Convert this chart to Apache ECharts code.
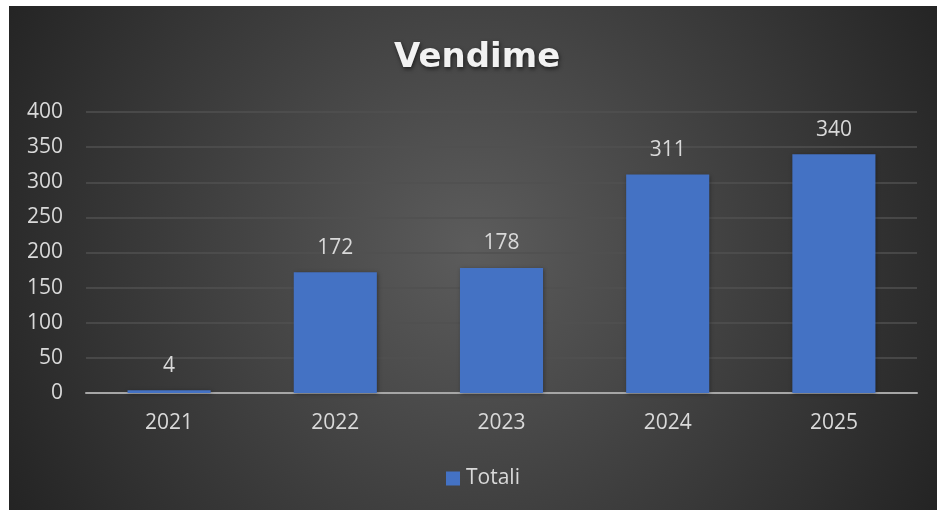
<!DOCTYPE html>
<html>
<head>
<meta charset="utf-8">
<script src="https://cdn.jsdelivr.net/npm/echarts@6/dist/echarts.min.js"></script>
<style>
  html, body { margin: 0; padding: 0; background: #fff; }
  #chart { position: absolute; left: 9px; top: 6px; width: 928px; height: 504px; }
</style>
</head>
<body>
<div id="chart"></div>
<script>
// Vendime per vit
const years = ['2021', '2022', '2023', '2024', '2025']
const totali = [4, 172, 178, 311, 340]
const yTicks = { min: 0, max: 400, interval: 50 }

const labelColor = '#d9d9d9'
const chart = echarts.init(document.getElementById('chart'))

chart.setOption({
  backgroundColor: {
    type: 'radial',
    x: 0.5, y: 0.48, r: 1.05,
    colorStops: [
      { offset: 0, color: '#5c5c5c' },
      { offset: 1, color: '#242424' }
    ]
  },
  textStyle: { fontFamily: 'Open Sans' },
  title: {
    text: 'Vendime',
    left: 380,
    top: 30,
    textStyle: {
      color: '#f2f2f2',
      fontSize: 34,
      fontWeight: 'bold',
      fontFamily: 'DejaVu Sans',
      textShadowColor: 'rgba(0,0,0,0.6)',
      textShadowBlur: 4,
      textShadowOffsetX: 1,
      textShadowOffsetY: 2
    }
  },
  legend: {
    bottom: 16,
    left: 432,
    icon: 'rect',
    itemWidth: 14,
    itemHeight: 14,
    itemGap: 6,
    textStyle: { color: labelColor, fontSize: 21, padding: [0, 0, 0, 1] },
    data: ['Totali']
  },
  grid: { left: 77, right: 20, top: 106, bottom: 117 },
  xAxis: {
    type: 'category',
    data: years,
    axisTick: { show: false },
    axisLine: { lineStyle: { color: '#a6a6a6', width: 2 } },
    axisLabel: { color: labelColor, fontSize: 21, margin: 20 }
  },
  yAxis: {
    type: 'value',
    min: yTicks.min,
    max: yTicks.max,
    interval: yTicks.interval,
    axisLine: { show: false },
    axisTick: { show: false },
    axisLabel: { color: labelColor, fontSize: 21, margin: 23 },
    splitLine: { lineStyle: { color: '#505050', width: 1.5 } }
  },
  series: [
    {
      name: 'Totali',
      type: 'bar',
      data: totali,
      barCategoryGap: '50%',
      itemStyle: {
        color: '#4472c4',
        shadowColor: 'rgba(0,0,0,0.35)',
        shadowBlur: 4,
        shadowOffsetX: 1,
        shadowOffsetY: 1
      },
      label: {
        show: true,
        position: 'top',
        distance: 14,
        color: labelColor,
        fontSize: 21
      }
    }
  ]
})
</script>
</body>
</html>
